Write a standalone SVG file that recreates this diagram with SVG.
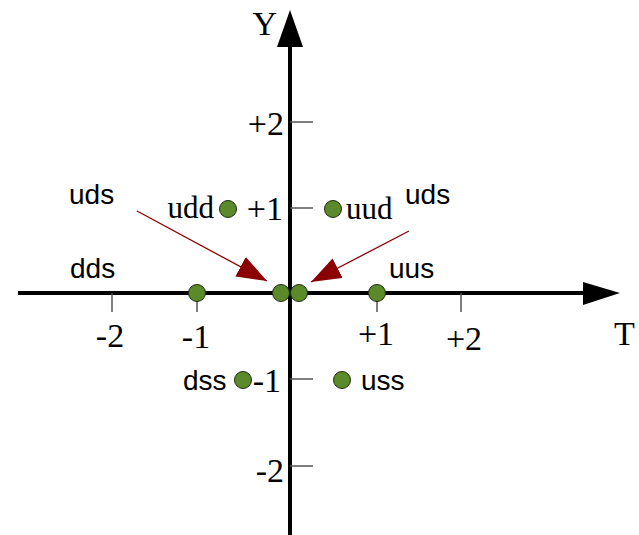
<svg xmlns="http://www.w3.org/2000/svg" width="639" height="535" viewBox="0 0 639 535">
<style>
.ax{stroke:#000;stroke-width:4;fill:none}
.tk{stroke:#555;stroke-width:1.5}
.dot{fill:#5b8a2b;stroke:#1e2a0e;stroke-width:1}
.sf{font-family:"Liberation Serif",serif;font-size:34px;fill:#000}
.ss{font-family:"Liberation Sans",sans-serif;font-size:28px;fill:#000}
.arr{stroke:#8b0000;stroke-width:1.3;fill:none}
</style>
<defs>
<marker id="ah" viewBox="0 0 30 22" refX="30" refY="11" markerWidth="30" markerHeight="22" markerUnits="userSpaceOnUse" orient="auto">
<path d="M0,0 L30,11 L0,22 Z" fill="#8b0000"/>
</marker>
</defs>
<g id="axes">
<line class="ax" x1="290" y1="44" x2="290" y2="535"/>
<polygon points="290,10 277,47 303,47" fill="#000"/>
<line class="ax" x1="18" y1="293" x2="585" y2="293"/>
<polygon points="620,293 583,282 583,305" fill="#000"/>
<line class="tk" x1="112" y1="293" x2="112" y2="312"/>
<line class="tk" x1="197" y1="293" x2="197" y2="312"/>
<line class="tk" x1="377" y1="293" x2="377" y2="312"/>
<line class="tk" x1="461" y1="293" x2="461" y2="312"/>
<line class="tk" x1="290" y1="122" x2="313" y2="122"/>
<line class="tk" x1="290" y1="208" x2="313" y2="208"/>
<line class="tk" x1="290" y1="379" x2="313" y2="379"/>
<line class="tk" x1="290" y1="466" x2="313" y2="466"/>
<text class="sf" x="277" y="35" text-anchor="end">Y</text>
<text class="sf" x="614" y="345">T</text>
<text class="sf" x="110" y="347" text-anchor="middle">-2</text>
<text class="sf" x="196" y="348" text-anchor="middle">-1</text>
<text class="sf" x="376" y="345" text-anchor="middle">+1</text>
<text class="sf" x="464" y="350" text-anchor="middle">+2</text>
<text class="sf" x="284" y="135" text-anchor="end">+2</text>
<text class="sf" x="283" y="220" text-anchor="end">+1</text>
<text class="sf" x="281" y="392" text-anchor="end">-1</text>
<text class="sf" x="284" y="482" text-anchor="end">-2</text>
</g>
<g id="connectors">
<line class="arr" x1="137" y1="211" x2="267" y2="281" marker-end="url(#ah)"/>
<line class="arr" x1="409" y1="231" x2="311" y2="282" marker-end="url(#ah)"/>
</g>
<g id="n-dds"><circle class="dot" cx="197" cy="293" r="8.5"/><text class="ss" x="70" y="278">dds</text></g>
<g id="n-uds1"><circle class="dot" cx="281" cy="293" r="8.5"/><text class="ss" x="69" y="204">uds</text></g>
<g id="n-uds2"><circle class="dot" cx="299" cy="293" r="8.5"/><text class="ss" x="405" y="204">uds</text></g>
<g id="n-uus"><circle class="dot" cx="377" cy="293" r="8.5"/><text class="ss" x="389" y="278">uus</text></g>
<g id="n-udd"><circle class="dot" cx="228" cy="209" r="8.5"/><text class="sf" x="214" y="218" text-anchor="end" style="font-size:31px">udd</text></g>
<g id="n-uud"><circle class="dot" cx="333" cy="209" r="8.5"/><text class="sf" x="346" y="219" style="font-size:31px">uud</text></g>
<g id="n-dss"><circle class="dot" cx="243" cy="380" r="8.5"/><text class="ss" x="183" y="390">dss</text></g>
<g id="n-uss"><circle class="dot" cx="342" cy="380" r="8.5"/><text class="ss" x="361" y="390">uss</text></g>
</svg>
